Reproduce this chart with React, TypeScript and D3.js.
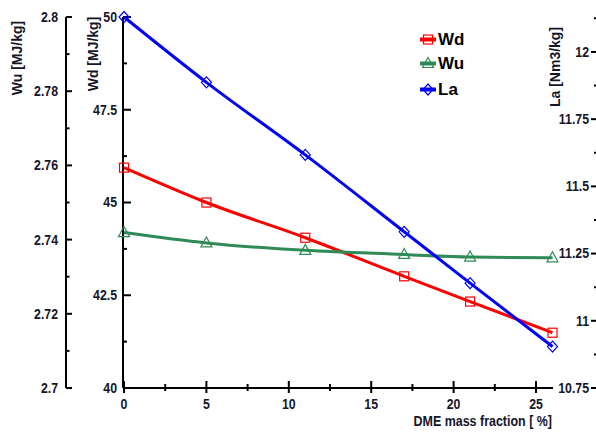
import React from "react";
import * as d3 from "d3";

const xValues = [0, 5, 11, 17, 21, 26];
const wdValues = [45.94, 45.0, 44.05, 43.01, 42.33, 41.49];
const wuValues = [2.7419, 2.7391, 2.7371, 2.736, 2.7353, 2.7351];
const laValues = [12.13, 11.887, 11.617, 11.331, 11.14, 10.904];

const xTicks = [0, 5, 10, 15, 20, 25];
const wuTicks = [2.7, 2.72, 2.74, 2.76, 2.78, 2.8];
const wdTicks = [40, 42.5, 45, 47.5, 50];
const laTicks = [10.75, 11, 11.25, 11.5, 11.75, 12];

const seriesNames = ["Wd", "Wu", "La"];
const seriesColors = ["#ff0000", "#2e8b57", "#0000ff"];

const FONT = "'Liberation Sans', Arial, sans-serif";
const TXT = "#15152a";

function Txt({ x, y, anchor = "start", sx = 0.88, size = 14, rotate = 0, children }: any) {
  return (
    <text
      transform={`translate(${x},${y}) rotate(${rotate}) scale(${sx},1)`}
      textAnchor={anchor}
      dy="0.35em"
      fontFamily={FONT}
      fontSize={size}
      fontWeight="bold"
      fill={TXT}
    >
      {children}
    </text>
  );
}

export default function App() {
  const W = 596, H = 432;
  const top = 17, bottom = 388;
  const x = d3.scaleLinear().domain([0, 26]).range([124, 552.5]);
  const yWd = d3.scaleLinear().domain([40, 50]).range([bottom, top]);
  const yWu = d3.scaleLinear().domain([2.7, 2.8]).range([bottom, top]);
  const yLa = d3.scaleLinear().domain([10.75, 12.13]).range([bottom, top]);

  const curve = d3.curveMonotoneX;
  const lineWd = d3.line<number>().x((_, i) => x(xValues[i])).y((d) => yWd(d)).curve(curve);
  const lineWu = d3.line<number>().x((_, i) => x(xValues[i])).y((d) => yWu(d)).curve(curve);
  const lineLa = d3.line<number>().x((_, i) => x(xValues[i])).y((d) => yLa(d)).curve(curve);

  const wuAxisX = 66;
  const wdAxisX = 123;
  const laAxisX = 598;

  const wuMinor = d3.range(2.71, 2.8, 0.02);
  const wdMinor = d3.range(41.25, 50, 2.5);
  const laMinor = d3.range(10.875, 12.2, 0.25);
  const xMinor = d3.range(2.5, 26, 5);

  const square = (cx: number, cy: number, c: string) => (
    <rect x={cx - 4.5} y={cy - 4.5} width={9} height={9} fill="none" stroke={c} strokeWidth={1.2} />
  );
  const tri = (cx: number, cy: number, c: string) => (
    <path d={`M${cx},${cy - 6}L${cx + 5.5},${cy + 4}L${cx - 5.5},${cy + 4}Z`} fill="none" stroke={c} strokeWidth={1.2} />
  );
  const dia = (cx: number, cy: number, c: string) => (
    <path d={`M${cx},${cy - 5.5}L${cx + 5},${cy}L${cx},${cy + 5.5}L${cx - 5},${cy}Z`} fill="none" stroke={c} strokeWidth={1.2} />
  );
  const markers = [square, tri, dia];
  const fmt = d3.format("");

  return (
    <svg width={W} height={H} style={{ position: "absolute", left: 0, top: 0, background: "white" }}>
      <rect width={W} height={H} fill="white" />
      {/* Wu axis */}
      <line x1={wuAxisX} x2={wuAxisX} y1={top} y2={bottom} stroke="black" strokeWidth={2} />
      {wuTicks.map((t) => (
        <g key={"wu" + t}>
          <line x1={wuAxisX} x2={wuAxisX + 6} y1={yWu(t)} y2={yWu(t)} stroke="black" strokeWidth={2} />
          <Txt x={58} y={yWu(t)} anchor="end">{fmt(t)}</Txt>
        </g>
      ))}
      {wuMinor.map((t) => (
        <line key={"wum" + t} x1={wuAxisX} x2={wuAxisX + 3.5} y1={yWu(t)} y2={yWu(t)} stroke="black" strokeWidth={2} />
      ))}
      <Txt x={17.5} y={58} anchor="middle" rotate={-90} sx={1} size={14}>Wu [MJ/kg]</Txt>
      {/* Wd axis */}
      <line x1={wdAxisX} x2={wdAxisX} y1={top} y2={bottom} stroke="black" strokeWidth={2} />
      {wdTicks.map((t) => (
        <g key={"wd" + t}>
          <line x1={wdAxisX} x2={wdAxisX + 8} y1={yWd(t)} y2={yWd(t)} stroke="black" strokeWidth={2} />
          <Txt x={117} y={yWd(t)} anchor="end">{fmt(t)}</Txt>
        </g>
      ))}
      {wdMinor.map((t) => (
        <line key={"wdm" + t} x1={wdAxisX} x2={wdAxisX + 4} y1={yWd(t)} y2={yWd(t)} stroke="black" strokeWidth={2} />
      ))}
      <Txt x={93.5} y={54} anchor="middle" rotate={-90} sx={1} size={14}>Wd [MJ/kg]</Txt>
      {/* La axis */}
      {laTicks.map((t) => (
        <g key={"la" + t}>
          <line x1={laAxisX} x2={laAxisX - 7} y1={yLa(t)} y2={yLa(t)} stroke="black" strokeWidth={2} />
          <Txt x={589} y={yLa(t)} anchor="end">{fmt(t)}</Txt>
        </g>
      ))}
      {laMinor.map((t) => (
        <line key={"lam" + t} x1={laAxisX} x2={laAxisX - 4} y1={yLa(t)} y2={yLa(t)} stroke="black" strokeWidth={2} />
      ))}
      <Txt x={555} y={67} anchor="middle" rotate={-90} sx={1} size={14}>La [Nm3/kg]</Txt>
      {/* X axis */}
      <line x1={wdAxisX} x2={553} y1={bottom} y2={bottom} stroke="black" strokeWidth={2} />
      {xTicks.map((t) => (
        <g key={"x" + t}>
          <line x1={x(t)} x2={x(t)} y1={bottom - 7} y2={bottom + 5} stroke="black" strokeWidth={2} />
          <Txt x={x(t)} y={404} anchor="middle">{t}</Txt>
        </g>
      ))}
      {xMinor.map((t) => (
        <line key={"xm" + t} x1={x(t)} x2={x(t)} y1={bottom - 4} y2={bottom + 3} stroke="black" strokeWidth={2} />
      ))}
      <Txt x={552} y={421} anchor="end" sx={0.89}>DME mass fraction [ %]</Txt>
      {/* Lines */}
      <path d={lineWd(wdValues) || ""} fill="none" stroke={seriesColors[0]} strokeWidth={3} />
      <path d={lineWu(wuValues) || ""} fill="none" stroke={seriesColors[1]} strokeWidth={3} />
      <path d={lineLa(laValues) || ""} fill="none" stroke={seriesColors[2]} strokeWidth={3} />
      {wdValues.map((v, i) => <g key={"mwd" + i}>{square(x(xValues[i]), yWd(v), seriesColors[0])}</g>)}
      {wuValues.map((v, i) => <g key={"mwu" + i}>{tri(x(xValues[i]), yWu(v), seriesColors[1])}</g>)}
      {laValues.map((v, i) => <g key={"mla" + i}>{dia(x(xValues[i]), yLa(v), seriesColors[2])}</g>)}
      {/* Legend */}
      {seriesNames.map((n, i) => {
        const ly = [39.5, 63.5, 89.5][i];
        return (
          <g key={n}>
            <line x1={420} x2={436} y1={ly} y2={ly} stroke={seriesColors[i]} strokeWidth={4} />
            {markers[i](428, ly, seriesColors[i])}
            <text x={438} y={ly} dy="0.35em" fill="black" fontFamily={FONT} fontSize={17} fontWeight="bold">{n}</text>
          </g>
        );
      })}
    </svg>
  );
}
